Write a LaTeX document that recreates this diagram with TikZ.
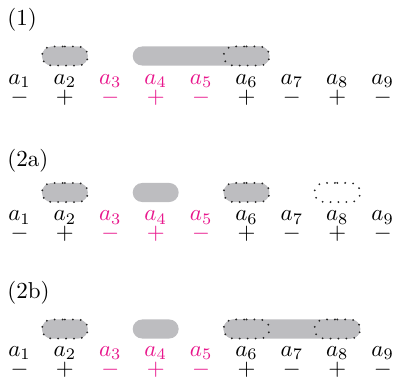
\documentclass[tikz,border=0pt]{standalone}
\usetikzlibrary{shapes.misc}
\definecolor{hl}{RGB}{232,22,140}
\definecolor{blobgray}{RGB}{189,189,192}
\begin{document}
\begin{tikzpicture}[x=0.435pt,y=-0.435pt,
  lab/.style={inner sep=0pt, anchor=base},
  title/.style={inner sep=0pt, anchor=base west},
  blob/.style={rounded rectangle, fill=blobgray, draw=none, inner sep=0pt,
    minimum height=8.3pt, minimum width=20pt},
  longblob/.style={blob, minimum width=59.5pt},
  dotline/.style={draw=black!85, line width=0.9pt,
    dash pattern=on 0pt off 3.45pt, line cap=round},
  ring/.style={blob, fill=none, dotline},
  dotblob/.style={blob, dotline}]
\useasboundingbox (0,0) rectangle (394,376);

% row titles
\node[title] (t1) at (7,25) {(1)};
\node[title] (t2) at (7,166.5) {(2a)};
\node[title] (t3) at (7,298) {(2b)};

% labels and signs of the three rows
\foreach \r/\ya/\ys in {1/84/103, 2/220.7/239.5, 3/356/375} {
  \foreach \i/\s/\c in {1/-/black, 2/+/black, 3/-/hl, 4/+/hl, 5/-/hl,
                        6/+/black, 7/-/black, 8/+/black, 9/-/black} {
    \pgfmathsetmacro\xx{19.5+45.4*(\i-1)}
    \node[lab, text=\c] (a\r\i) at (\xx,\ya) {$a_{\i}$};
    \node[lab, text=\c] (s\r\i) at (\xx,\ys) {$\s$};
  }
}

% row (1)
\node[dotblob]  (p1a) at (64.9,56) {};
\node[longblob] (p1b) at (201.1,56) {};
\node[dotblob]  (p1c) at (246.5,56) {};

% row (2a)
\node[dotblob] (p2a) at (64.9,192.5) {};
\node[blob]    (p2b) at (155.7,192.5) {};
\node[dotblob] (p2c) at (246.5,192.5) {};
\node[ring]    (p2d) at (337.3,192.5) {};

% row (2b)
\node[dotblob]  (p3a) at (64.9,329) {};
\node[blob]     (p3b) at (155.7,329) {};
\node[longblob] (p3c) at (291.9,329) {};
\node[dotblob]  (p3d) at (246.5,329) {};
\node[dotblob]  (p3e) at (337.3,329) {};
\end{tikzpicture}
\end{document}
